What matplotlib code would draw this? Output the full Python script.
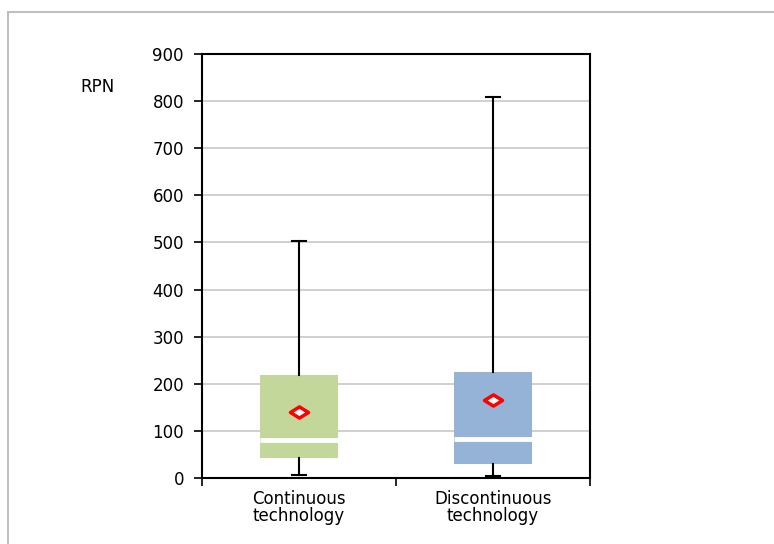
import matplotlib.pyplot as plt
from matplotlib.path import Path
from matplotlib.patches import Rectangle

plt.rcParams['font.family'] = ['DejaVu Sans']

# box plot statistics per technology
categories = ["Continuous\ntechnology", "Discontinuous\ntechnology"]
whisker_low = [6, 4]
q1 = [43, 30]
median = [80, 82]
q3 = [219, 224]
whisker_high = [504, 809]
mean = [140, 166]
box_colors = ["#c4d79b", "#95b3d7"]

stats = []
for i, name in enumerate(categories):
    stats.append({
        "label": name,
        "whislo": whisker_low[i],
        "q1": q1[i],
        "med": median[i],
        "q3": q3[i],
        "whishi": whisker_high[i],
        "mean": mean[i],
        "fliers": [],
    })

fig = plt.figure(figsize=(7.74, 5.44), dpi=100)
ax = fig.add_axes([202 / 774, 1 - 478 / 544, 388 / 774, 424 / 544])

# light grey frame around the chart area
fig.patches.append(Rectangle((7.5 / 774, -0.1), 1.2, 1 - 12.5 / 544 + 0.1,
                             transform=fig.transFigure, fill=False,
                             edgecolor="#bfbfbf", linewidth=1.5))

diamond = Path([(-1, 0), (0, 0.62), (1, 0), (0, -0.62), (-1, 0)],
               [Path.MOVETO, Path.LINETO, Path.LINETO, Path.LINETO, Path.CLOSEPOLY])

bp = ax.bxp(stats, positions=range(len(categories)), widths=0.4,
            patch_artist=True, showmeans=True, showfliers=False,
            whiskerprops=dict(color="black", linewidth=1.5),
            capprops=dict(color="black", linewidth=1.5),
            medianprops=dict(color="white", linewidth=3.5),
            meanprops=dict(marker=diamond, markersize=13, markerfacecolor="white",
                           markeredgecolor="#ff0000", markeredgewidth=2.5,
                           linestyle="none"),
            boxprops=dict(linewidth=0),
            capwidths=0.07)
for patch, c in zip(bp["boxes"], box_colors):
    patch.set_facecolor(c)
    patch.set_edgecolor(c)

ax.set_xlim(-0.5, 1.5)
ax.set_ylim(0, 900)
ax.set_yticks(range(0, 901, 100))
ax.tick_params(axis="y", direction="out", length=6, width=1.2, labelsize=12, pad=7)
ax.yaxis.grid(True, color="#c8c8c8", linewidth=1.2)
ax.set_axisbelow(True)

# category ticks sit between the boxes, labels under each box
ax.set_xticks([-0.5, 0.5, 1.5])
ax.set_xticklabels([])
ax.set_xticks([0, 1], labels=categories, minor=True)
ax.tick_params(axis="x", which="major", direction="out", length=6, width=1.2)
ax.tick_params(axis="x", which="minor", length=0, labelsize=12, pad=9)
for lbl in ax.get_xticklabels(minor=True):
    lbl.set_linespacing(0.92)

for side in ["left", "bottom", "top", "right"]:
    ax.spines[side].set_linewidth(1.5)
    ax.spines[side].set_color("black")

fig.text(97 / 774, 1 - 87 / 544, "RPN", fontsize=12, ha="center", va="center")

fig.savefig("out.png", dpi=100)
